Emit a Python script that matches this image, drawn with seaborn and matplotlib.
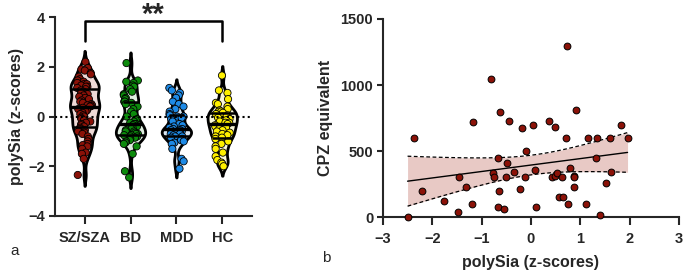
import numpy as np
import pandas as pd
import matplotlib
matplotlib.use("Agg")
import matplotlib.pyplot as plt
import seaborn as sns

# ---------------- data ----------------
groups = ["SZ/SZA", "BD", "MDD", "HC"]
sz_vals = [2.2, 1.95, 1.9, 1.85, 1.75, 1.7, 1.6, 1.5, 1.45, 1.4, 1.35, 1.3, 1.3, 1.25,
           1.2, 1.2, 1.15, 1.1, 1.05, 1.0, 0.95, 0.9, 0.85, 0.8, 0.75, 0.7, 0.65, 0.6,
           0.55, 0.5, 0.45, 0.45, 0.42, 0.4, 0.35, 0.3, 0.25, 0.2, 0.15, 0.1, 0.05, 0.0,
           -0.05, -0.1, -0.15, -0.2, -0.25, -0.3, -0.35, -0.4, -0.45, -0.5, -0.55, -0.6,
           -0.65, -0.7, -0.8, -0.9, -1.0, -1.1, -1.15, -1.2, -1.3, -1.45, -1.5, -1.7, -2.35]
bd_vals = [2.15, 1.45, 1.4, 1.35, 1.25, 1.2, 1.1, 1.0, 0.9, 0.85, 0.75, 0.7, 0.6, 0.6,
           0.55, 0.5, 0.4, 0.3, 0.2, 0.1, 0.0, -0.1, -0.15, -0.2, -0.25, -0.3, -0.3,
           -0.35, -0.4, -0.45, -0.5, -0.5, -0.55, -0.6, -0.6, -0.65, -0.7, -0.7, -0.75,
           -0.75, -0.8, -0.8, -0.85, -0.9, -0.95, -1.0, -1.05, -1.1, -1.2, -1.5, -2.2, -2.45]
mdd_vals = [1.15, 1.05, 0.95, 0.85, 0.75, 0.6, 0.5, 0.4, 0.3, 0.2, 0.1, 0.05, 0.0, 0.0,
            -0.05, -0.1, -0.2, -0.3, -0.35, -0.4, -0.45, -0.5, -0.5, -0.55, -0.55, -0.6,
            -0.6, -0.65, -0.65, -0.7, -0.7, -0.75, -0.8, -0.8, -0.85, -0.9, -0.95, -1.0,
            -1.05, -1.1, -1.3, -1.7, -1.8, -2.1]
hc_vals = [1.65, 1.05, 0.95, 0.7, 0.55, 0.5, 0.4, 0.3, 0.25, 0.2, 0.2, 0.15, 0.1, 0.05,
           0.0, 0.0, -0.05, -0.1, -0.15, -0.2, -0.25, -0.25, -0.3, -0.35, -0.4, -0.45,
           -0.5, -0.55, -0.6, -0.65, -0.7, -0.75, -0.8, -0.85, -0.9, -1.0, -1.1, -1.2,
           -1.3, -1.45, -1.6, -1.75, -1.85, -1.9, -2.0]

cpz_x = [-2.50, -2.37, -2.21, -1.77, -1.47, -1.46, -1.32, -1.19, -1.18, -0.81, -0.77,
         -0.74, -0.67, -0.66, -0.64, -0.62, -0.55, -0.50, -0.49, -0.44, -0.34, -0.23,
         -0.18, -0.12, -0.10, 0.05, 0.09, 0.11, 0.36, 0.43, 0.49, 0.49, 0.53, 0.58,
         0.64, 0.65, 0.71, 0.73, 0.75, 0.80, 0.87, 0.88, 0.88, 0.91, 1.12, 1.16, 1.33,
         1.35, 1.40, 1.52, 1.61, 1.62, 1.83, 1.96]
cpz_y = [0, 600, 200, 120, 38, 300, 225, 100, 717, 1048, 335, 300, 450, 73, 200, 798,
         58, 300, 410, 730, 338, 210, 675, 300, 500, 700, 358, 73, 730, 300, 680, 313,
         335, 150, 300, 150, 600, 1298, 100, 373, 225, 313, 300, 808, 100, 600, 450,
         595, 15, 260, 600, 338, 700, 600]

dot_colors = ["#8b1208", "#0c8a0c", "#1e8ae6", "#fff000"]
fill_colors = ["#f2d6d2", "#dcefdc", "#d6e7f7", "#fffbd2"]

# ---------------- style ----------------
sns.set_style("ticks")
plt.rcParams["font.family"] = ["Liberation Sans", "DejaVu Sans"]
plt.rcParams["font.weight"] = "bold"

fig = plt.figure(figsize=(6.85, 2.71), dpi=100)
ax1 = fig.add_axes([0.080, 0.203, 0.288, 0.734])
ax2 = fig.add_axes([0.559, 0.199, 0.432, 0.731])

df = pd.DataFrame({
    "group": np.repeat(groups, [len(sz_vals), len(bd_vals), len(mdd_vals), len(hc_vals)]),
    "val": sz_vals + bd_vals + mdd_vals + hc_vals,
})

pal_fill = dict(zip(groups, fill_colors))
pal_dot = dict(zip(groups, dot_colors))

sns.violinplot(data=df, x="group", y="val", hue="group", palette=pal_fill,
               order=groups, hue_order=groups, legend=False,
               linecolor="black", linewidth=2.0, inner=None, cut=2, bw_adjust=0.5,
               density_norm="width", width=0.64, ax=ax1)
violin_polys = list(ax1.collections)
np.random.seed(3)
sns.stripplot(data=df, x="group", y="val", hue="group", palette=pal_dot,
              order=groups, hue_order=groups, legend=False,
              jitter=0.17, size=5.2, edgecolor="black", linewidth=0.6, ax=ax1, zorder=3)

# median / quartile lines clipped to violin outline
for i, g in enumerate(groups):
    v = np.array(df.loc[df.group == g, "val"])
    q1, med, q3 = np.percentile(v, [25, 50, 75])
    verts = violin_polys[i].get_paths()[0].vertices
    right = verts[verts[:, 0] > i]
    order = np.argsort(right[:, 1])
    ys, xs_ = right[order, 1], right[order, 0]
    for q, lw in [(q1, 1.8), (med, 2.4), (q3, 1.8)]:
        hw = np.interp(q, ys, xs_) - i
        ax1.hlines(q, i - hw, i + hw, color="black", lw=lw, zorder=4)

ax1.axhline(0, color="black", lw=1.5, ls=(0, (1, 1.5)), zorder=5)
ax1.set_xlim(-0.65, 3.65)
ax1.set_ylim(-4, 4)
ax1.set_yticks([-4, -2, 0, 2, 4])
ax1.set_xlabel("")
ax1.set_ylabel("polySia (z-scores)", fontsize=11.5, fontweight="bold", labelpad=3)
ax1.tick_params(axis="x", labelsize=10.5, width=1.5, length=5.5, pad=5)
ax1.tick_params(axis="y", labelsize=10.5, width=1.5, length=4.5, pad=2.5)
for lab in ax1.get_xticklabels() + ax1.get_yticklabels():
    lab.set_fontweight("bold")
sns.despine(ax=ax1)
for s in ["left", "bottom"]:
    ax1.spines[s].set_linewidth(1.5)

# significance bracket
ax1.plot([0, 0, 3, 3], [3.05, 3.86, 3.86, 3.05], color="black", lw=1.8, clip_on=False)
fig.text(ax1.get_position().x0 + ax1.get_position().width * (1.5 + 0.65) / 4.3,
         1 - 23 / 271, "**", ha="center", va="baseline", fontsize=21,
         fontweight="bold")

# ---------------- right panel ----------------
x = np.array(cpz_x)
y = np.array(cpz_y)
n = len(x)
b1, b0 = np.polyfit(x, y, 1)
xs = np.linspace(x.min(), x.max(), 100)
yhat = b0 + b1 * xs
resid = y - (b0 + b1 * x)
s = np.sqrt(np.sum(resid ** 2) / (n - 2))
tval = 2.006
se = s * np.sqrt(1 / n + (xs - x.mean()) ** 2 / np.sum((x - x.mean()) ** 2))
lo, hi = yhat - tval * se, yhat + tval * se

ax2.fill_between(xs, lo, hi, color="#e8c9c5", lw=0, zorder=1)
ax2.plot(xs, lo, color="black", lw=0.9, ls=(0, (3, 2)), zorder=2)
ax2.plot(xs, hi, color="black", lw=0.9, ls=(0, (3, 2)), zorder=2)
sns.regplot(x=x, y=y, ci=None, ax=ax2,
            scatter_kws=dict(s=24, color="#8b1208", edgecolor="black", linewidths=0.7,
                             alpha=1, zorder=4, clip_on=False),
            line_kws=dict(color="black", lw=1.0, zorder=3))

ax2.set_xlim(-3, 3)
ax2.set_ylim(0, 1500)
ax2.set_xticks([-3, -2, -1, 0, 1, 2, 3])
ax2.set_yticks([0, 500, 1000, 1500])
ax2.set_xlabel("polySia (z-scores)", fontsize=11.5, fontweight="bold", labelpad=6)
ax2.set_ylabel("CPZ equivalent", fontsize=11.5, fontweight="bold", labelpad=5)
ax2.tick_params(axis="x", labelsize=10.5, width=1.5, length=5.5, pad=5.5)
ax2.tick_params(axis="y", labelsize=10.5, width=1.5, length=4.5, pad=2.5)
for lab in ax2.get_xticklabels() + ax2.get_yticklabels():
    lab.set_fontweight("bold")
sns.despine(ax=ax2)
for s_ in ["left", "bottom"]:
    ax2.spines[s_].set_linewidth(1.5)

fig.text(0.015, 0.075, "a", fontsize=11, fontweight="normal", va="center")
fig.text(0.470, 0.048, "b", fontsize=11, fontweight="normal", va="center")

fig.savefig("out.png", dpi=100)
